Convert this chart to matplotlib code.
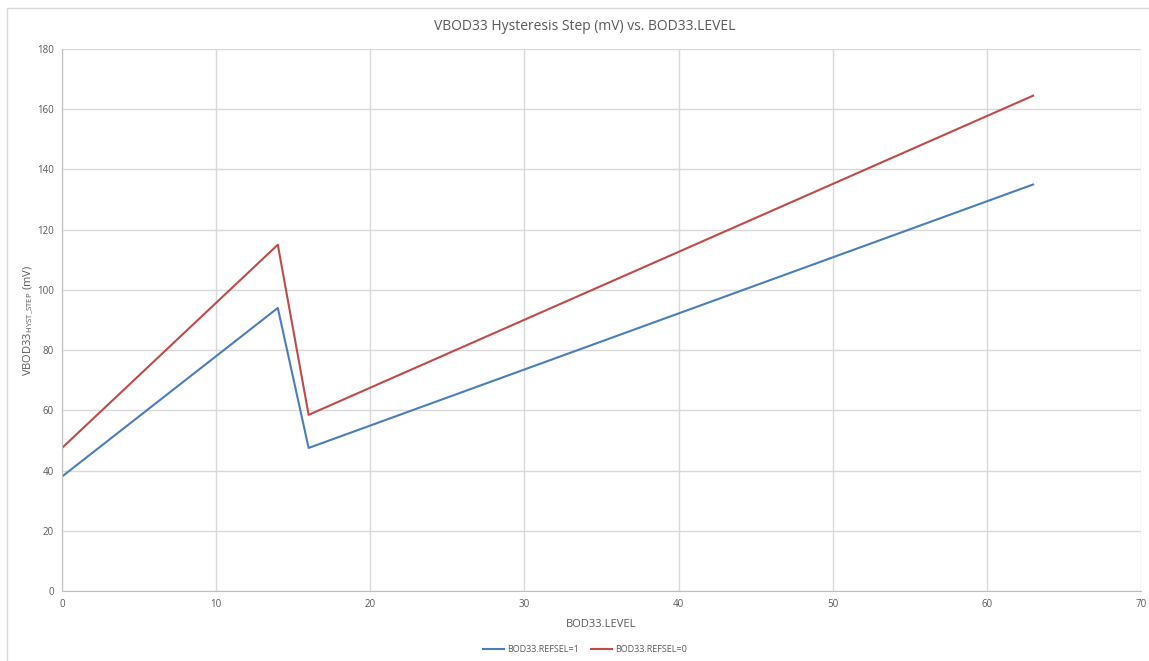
from matplotlib import pyplot as plt
from matplotlib.patches import Rectangle

# Breakpoints of the two hysteresis curves (BOD33.LEVEL vs mV).
level = [0, 14, 16, 63]
refsel1 = [38, 94, 47.5, 135]
refsel0 = [47.5, 115, 58.5, 164.5]

x_ticks = [0, 10, 20, 30, 40, 50, 60, 70]
y_ticks = [0, 20, 40, 60, 80, 100, 120, 140, 160, 180]

plt.rcParams['font.family'] = ['Open Sans', 'DejaVu Sans']

fig = plt.figure(figsize=(11.49, 6.61), dpi=100)
W, H = 1149, 661
ax = fig.add_axes([62 / W, 1 - 591 / H, (1141 - 62) / W, (591 - 49) / H])

# Outer chart-area border (only top and left visible).
fig.patches.append(Rectangle((7 / W, -0.1), 1.2, 1 - 8 / H + 0.1,
                             transform=fig.transFigure, fill=False,
                             edgecolor='#d9d9d9', linewidth=1.0))

ax.plot(level, refsel1, color='#4a7ebb', linewidth=1.5, label='BOD33.REFSEL=1')
ax.plot(level, refsel0, color='#be4b48', linewidth=1.5, label='BOD33.REFSEL=0')

ax.set_xlim(0, 70)
ax.set_ylim(0, 180)
ax.set_xticks(x_ticks)
ax.set_yticks(y_ticks)
ax.grid(True, color='#d9d9d9', linewidth=1.0)
ax.set_axisbelow(True)
for side in ['top', 'right']:
    ax.spines[side].set_visible(False)
for side in ['left', 'bottom']:
    ax.spines[side].set_color('#bfbfbf')
ax.tick_params(length=0, labelsize=7, colors='#595959', pad=6)

ax.set_xlabel('BOD33.LEVEL', fontsize=8, color='#595959', labelpad=6)
ax.set_ylabel(r'VBOD33$_{\mathregular{HYST\_STEP}}$ (mV)', fontsize=8,
              color='#595959')
ax.yaxis.set_label_coords((35 - 62) / (1141 - 62), 0.5)
fig.text(585 / W, 1 - 26 / H, 'VBOD33 Hysteresis Step (mV) vs. BOD33.LEVEL',
         ha='center', va='center', fontsize=10, color='#595959')

leg = fig.legend(loc='center', bbox_to_anchor=(585 / W, 1 - 650 / H), ncol=2,
                 frameon=False, fontsize=6.5, handlelength=2.3,
                 handletextpad=0.3, columnspacing=1.4)
for t in leg.get_texts():
    t.set_color('#595959')

fig.savefig('out.png', dpi=100)
